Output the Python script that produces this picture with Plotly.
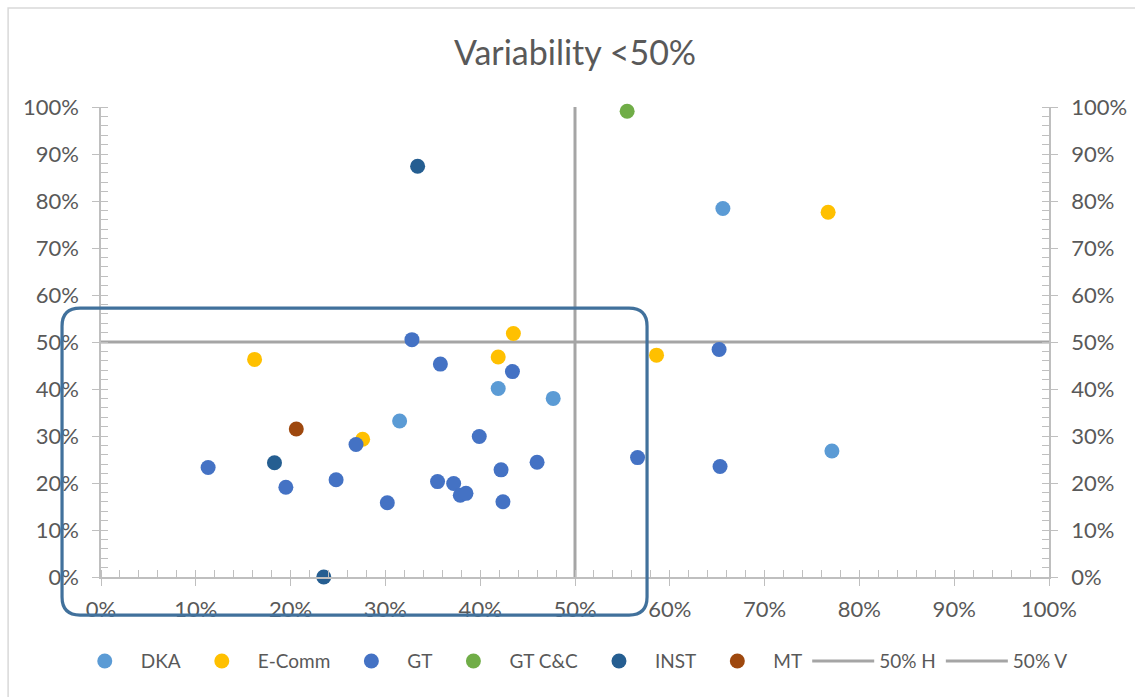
import plotly.graph_objects as go

# ---- data: x = share, y = variability ----
dka_x = [0.656, 0.771, 0.419, 0.477, 0.315]
dka_y = [0.784, 0.268, 0.401, 0.380, 0.332]

ecomm_x = [0.162, 0.276, 0.419, 0.435, 0.586, 0.767]
ecomm_y = [0.463, 0.293, 0.468, 0.518, 0.472, 0.776]

gt_x = [0.113, 0.195, 0.248, 0.269, 0.302, 0.328, 0.358, 0.434, 0.399, 0.460,
        0.422, 0.355, 0.372, 0.379, 0.385, 0.424, 0.566, 0.652, 0.653]
gt_y = [0.233, 0.191, 0.207, 0.282, 0.158, 0.505, 0.453, 0.437, 0.299, 0.244,
        0.228, 0.203, 0.199, 0.174, 0.178, 0.160, 0.254, 0.484, 0.235]

gtcc_x = [0.555]
gtcc_y = [0.991]

inst_x = [0.334, 0.183, 0.235]
inst_y = [0.874, 0.243, 0.000]

mt_x = [0.206]
mt_y = [0.315]

h_line_x = [0.0, 1.0]
h_line_y = [0.5, 0.5]
v_line_x = [0.5, 0.5]
v_line_y = [0.0, 1.0]

FONT = "Lato"
TXT = "#595959"
AX = "#BFBFBF"
REF = "#A5A5A5"

fig = go.Figure()

# horizontal reference line sits underneath the markers, but last in the legend
fig.add_trace(go.Scatter(x=h_line_x, y=h_line_y, mode="lines", name="50% H",
                         line=dict(color=REF, width=3), legendrank=1001,
                         hoverinfo="skip"))

series = [
    ("DKA", dka_x, dka_y, "#5B9BD5"),
    ("E-Comm", ecomm_x, ecomm_y, "#FFC000"),
    ("GT", gt_x, gt_y, "#4472C4"),
    ("GT C&C", gtcc_x, gtcc_y, "#70AD47"),
    ("INST", inst_x, inst_y, "#255E91"),
    ("MT", mt_x, mt_y, "#9E480E"),
]
for name, xs, ys, col in series:
    fig.add_trace(go.Scatter(x=xs, y=ys, mode="markers", name=name,
                             marker=dict(color=col, size=15, line=dict(width=0)),
                             cliponaxis=False, legendrank=1000))

# vertical reference line is plotted against the secondary (right) axis
fig.add_trace(go.Scatter(x=v_line_x, y=v_line_y, mode="lines", name="50% V",
                         line=dict(color=REF, width=3), legendrank=1002,
                         yaxis="y2", hoverinfo="skip"))

# empty helper traces so the overlay axes carrying the inner tick halves render
fig.add_trace(go.Scatter(x=[], y=[], xaxis="x2", yaxis="y3", showlegend=False,
                         hoverinfo="skip"))
fig.add_trace(go.Scatter(x=[], y=[], yaxis="y4", showlegend=False,
                         hoverinfo="skip"))

tick_common = dict(range=[0, 1], dtick=0.1, tickformat=".0%", showgrid=False,
                   zeroline=False, fixedrange=True, automargin=False)
minor = dict(dtick=0.02, ticks="inside", ticklen=7, tickcolor=AX, tickwidth=1.3)
lab_font = dict(family=FONT, size=22, color=TXT)
inner = dict(showline=False, ticks="inside", ticklen=7, tickcolor=AX,
             tickwidth=1.3, showticklabels=False)

fig.update_layout(
    width=1135, height=697,
    margin=dict(l=101, r=86, t=107, b=120, autoexpand=False),
    paper_bgcolor="white", plot_bgcolor="white",
    font=dict(family=FONT, color=TXT),
    showlegend=True,
    title=dict(text="Variability <50%", x=0.5, xref="paper", xanchor="center",
               y=1 - 53 / 697, yref="container", yanchor="middle",
               font=dict(family=FONT, size=34, color=TXT)),
    xaxis=dict(**tick_common, showline=True, linecolor=AX, linewidth=1.5,
               ticks="outside", ticklen=7, tickcolor=AX, tickwidth=1.3,
               minor=minor, tickfont=lab_font, ticklabelstandoff=5,
               domain=[0, 1], anchor="y"),
    yaxis=dict(**tick_common, showline=True, linecolor=AX, linewidth=1.5,
               ticks="outside", ticklen=7, tickcolor=AX, tickwidth=1.3,
               minor=minor, tickfont=lab_font, ticklabelstandoff=9,
               domain=[0, 1], anchor="x"),
    # secondary y axis on the right, same scale
    yaxis2=dict(**tick_common, overlaying="y", side="right", anchor="x",
                showline=True, linecolor=AX, linewidth=1.5,
                ticks="outside", ticklen=7, tickcolor=AX, tickwidth=1.3,
                minor=minor, tickfont=lab_font, ticklabelstandoff=9),
    # inner halves of the major tick marks
    xaxis2=dict(**tick_common, **inner, overlaying="x", side="bottom", anchor="y3"),
    yaxis3=dict(**tick_common, **inner, overlaying="y", side="left", anchor="x2"),
    yaxis4=dict(**tick_common, **inner, overlaying="y", side="right", anchor="x"),
    legend=dict(orientation="h", x=-0.034, xanchor="left", y=-0.179,
                yanchor="middle", font=dict(family=FONT, size=19, color=TXT),
                itemwidth=62, traceorder="normal", bgcolor="rgba(0,0,0,0)"),
)

# chart-area frame
fig.add_shape(type="rect", xref="paper", yref="paper",
              x0=-0.098, x1=1.3, y0=-0.5, y1=1.2106,
              line=dict(color="#D9D9D9", width=1.5), layer="below")

# rounded highlight box around the low-variability cluster
bx0, bx1, by0, by1 = -0.0411, 0.576, -0.081, 0.572
rx, ry = 18 / 948, 18 / 470
path = (f"M {bx0 + rx},{by1} L {bx1 - rx},{by1} Q {bx1},{by1} {bx1},{by1 - ry} "
        f"L {bx1},{by0 + ry} Q {bx1},{by0} {bx1 - rx},{by0} "
        f"L {bx0 + rx},{by0} Q {bx0},{by0} {bx0},{by0 + ry} "
        f"L {bx0},{by1 - ry} Q {bx0},{by1} {bx0 + rx},{by1} Z")
fig.add_shape(type="path", path=path, xref="paper", yref="paper",
              line=dict(color="#41719C", width=3.2), layer="above")

fig.write_html("out.html", config={"displayModeBar": False})
